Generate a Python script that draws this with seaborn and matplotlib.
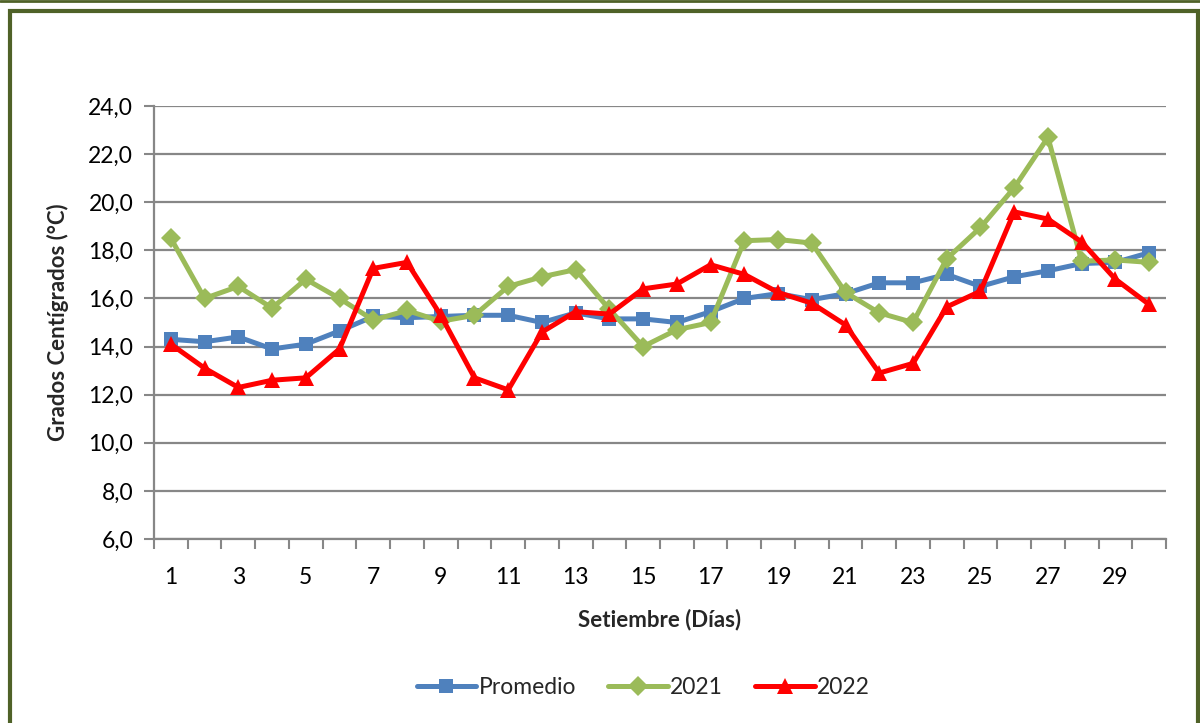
import numpy as np
import pandas as pd
import matplotlib
matplotlib.use("Agg")
import matplotlib.pyplot as plt
from matplotlib.patches import Rectangle
from matplotlib.lines import Line2D
from matplotlib.ticker import FuncFormatter
import seaborn as sns

days = list(range(1, 31))
promedio = [14.3, 14.2, 14.4, 13.9, 14.1, 14.65, 15.25, 15.2, 15.25, 15.3,
            15.3, 15.0, 15.4, 15.15, 15.15, 15.0, 15.45, 16.0, 16.2, 15.95,
            16.2, 16.65, 16.65, 17.0, 16.5, 16.9, 17.15, 17.45, 17.5, 17.9]
y2021 = [18.5, 16.0, 16.5, 15.6, 16.8, 16.0, 15.1, 15.5, 15.05, 15.3,
         16.5, 16.9, 17.2, 15.55, 14.0, 14.7, 15.0, 18.4, 18.45, 18.3,
         16.25, 15.4, 15.0, 17.65, 18.95, 20.6, 22.7, 17.55, 17.6, 17.5]
y2022 = [14.1, 13.1, 12.3, 12.6, 12.7, 13.9, 17.25, 17.5, 15.3, 12.7,
         12.2, 14.6, 15.45, 15.35, 16.4, 16.6, 17.4, 17.0, 16.25, 15.8,
         14.9, 12.9, 13.3, 15.65, 16.3, 19.6, 19.3, 18.35, 16.8, 15.75]
series_names = ["Promedio", "2021", "2022"]
yticks = [6.0, 8.0, 10.0, 12.0, 14.0, 16.0, 18.0, 20.0, 22.0, 24.0]

df = pd.DataFrame({
    "dia": days * 3,
    "temp": promedio + y2021 + y2022,
    "serie": [series_names[0]] * 30 + [series_names[1]] * 30 + [series_names[2]] * 30,
})

sns.set_theme(style="white")
plt.rcParams["font.family"] = ["Lato", "DejaVu Sans"]

fig = plt.figure(figsize=(12, 7.23), dpi=100)
ax = fig.add_axes([154 / 1200, 1 - 539 / 723, (1166 - 154) / 1200, (539 - 106) / 723])

colors = {"Promedio": "#4F81BD", "2021": "#9BBB59", "2022": "#FF0000"}
markers = {"Promedio": "s", "2021": "D", "2022": "^"}
msizes = {"Promedio": 10, "2021": 10, "2022": 11}

for name in series_names:
    sub = df[df["serie"] == name]
    sns.lineplot(data=sub, x="dia", y="temp", ax=ax, color=colors[name],
                 marker=markers[name], markersize=msizes[name], linewidth=3.6,
                 markeredgewidth=0, legend=False, zorder=3)

ax.set_xlim(0.5, 30.5)
ax.set_ylim(6, 24)
ax.set_yticks(yticks)
ax.yaxis.set_major_formatter(FuncFormatter(lambda v, p: f"{v:.1f}".replace(".", ",")))
ax.set_xticks(days[::2])
ax.set_xticklabels([str(d) for d in days[::2]])
ax.set_xticks(np.arange(0.5, 31, 1), minor=True)
ax.tick_params(axis="x", which="major", length=0, pad=20, labelsize=16.5, colors="black")
ax.tick_params(axis="x", which="minor", length=7, width=1.5, color="#878787", direction="out", bottom=True)
ax.tick_params(axis="y", which="major", length=7, width=1.5, color="#878787", direction="out",
               left=True, labelsize=16.5, pad=8, colors="black")
ax.tick_params(axis="y", colors="black", color="#878787")
ax.tick_params(axis="x", which="minor", color="#878787")

ax.grid(axis="y", color="#878787", linewidth=1.6)
ax.grid(axis="x", visible=False)
ax.set_axisbelow(True)
for s in ["top", "right"]:
    ax.spines[s].set_visible(False)
for s in ["left", "bottom"]:
    ax.spines[s].set_color("#878787")
    ax.spines[s].set_linewidth(1.6)

ax.set_xlabel("Setiembre (Días)", fontsize=16, fontweight="bold", labelpad=15)
ax.set_ylabel("Grados Centígrados (°C)", fontsize=16, fontweight="bold", labelpad=14)

handles = [Line2D([0], [0], color=colors[n], marker=markers[n], markersize=msizes[n],
                  linewidth=3.6, markeredgewidth=0) for n in series_names]
fig.legend(handles, series_names, loc="center", bbox_to_anchor=(0.536, 1 - 688 / 723),
           ncol=3, frameon=False, fontsize=16.5, handlelength=2.6, handletextpad=0.1,
           columnspacing=1.4)

# Frame
fig.add_artist(Line2D([0, 1], [1 - 1 / 723, 1 - 1 / 723], transform=fig.transFigure,
                      color="#4F6228", linewidth=2))
fig.add_artist(Rectangle((9.5 / 1200, -0.05), (1197.5 - 9.5) / 1200, 1.05 - 11 / 723,
                         transform=fig.transFigure, fill=False, edgecolor="#4F6228",
                         linewidth=3))

fig.savefig("out.png", dpi=100)
